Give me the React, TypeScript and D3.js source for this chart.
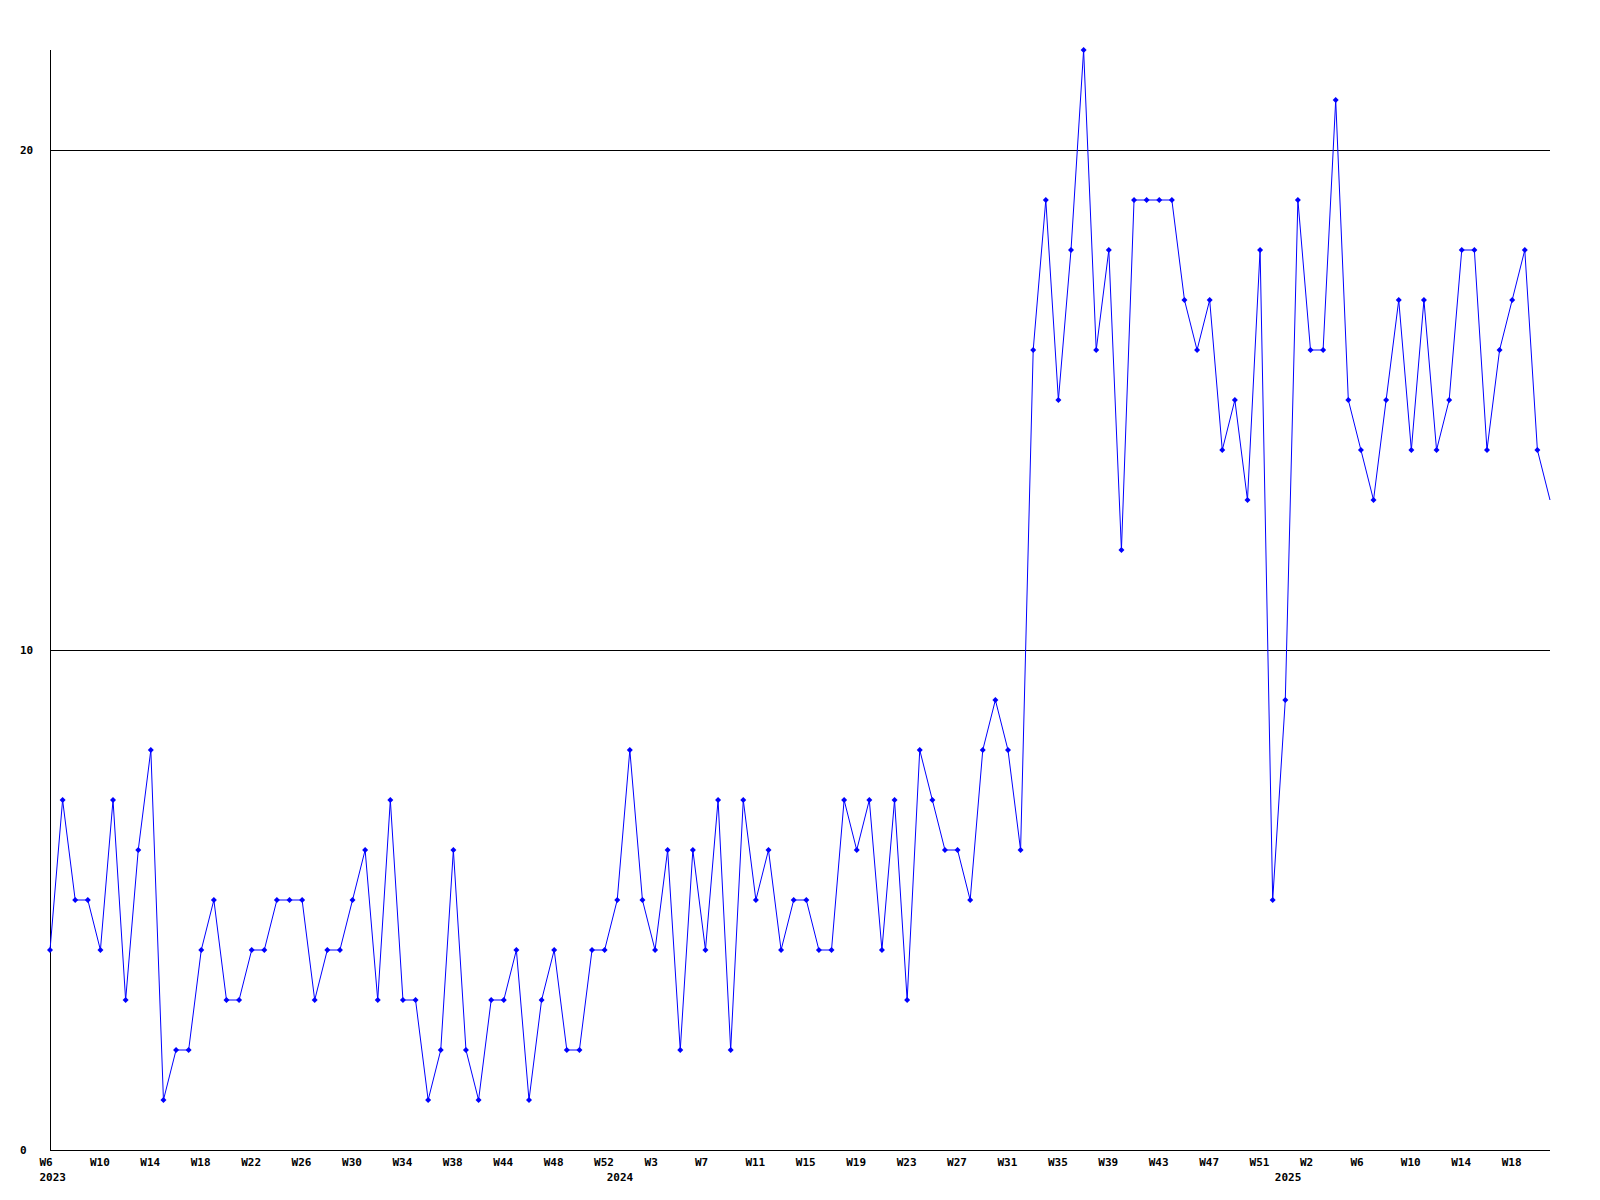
import React from "react";
import * as d3 from "d3";

// week numbers per year (two weeks missing in autumn 2023)
const weeks2023 = [
  6, 7, 8, 9, 10, 11, 12, 13, 14, 15, 16, 17, 18, 19, 20, 21, 22, 23, 24, 25,
  26, 27, 28, 29, 30, 31, 32, 33, 34, 35, 36, 37, 38, 39, 40, 41, 44, 45, 46,
  47, 48, 49, 50, 51, 52,
];
const weeks2024 = [
  0, 1, 2, 3, 4, 5, 6, 7, 8, 9, 10, 11, 12, 13, 14, 15, 16, 17, 18, 19, 20, 21,
  22, 23, 24, 25, 26, 27, 28, 29, 30, 31, 32, 33, 34, 35, 36, 37, 38, 39, 40,
  41, 42, 43, 44, 45, 46, 47, 48, 49, 50, 51, 52,
];
const weeks2025 = [
  0, 1, 2, 3, 4, 5, 6, 7, 8, 9, 10, 11, 12, 13, 14, 15, 16, 17, 18, 19, 20, 21,
];

const values = [
  4, 7, 5, 5, 4, 7, 3, 6, 8, 1,
  2, 2, 4, 5, 3, 3, 4, 4, 5, 5,
  5, 3, 4, 4, 5, 6, 3, 7, 3, 3,
  1, 2, 6, 2, 1, 3, 3, 4, 1, 3,
  4, 2, 2, 4, 4, 5, 8, 5, 4, 6,
  2, 6, 4, 7, 2, 7, 5, 6, 4, 5,
  5, 4, 4, 7, 6, 7, 4, 7, 3, 8,
  7, 6, 6, 5, 8, 9, 8, 6, 16, 19,
  15, 18, 22, 16, 18, 12, 19, 19, 19, 19,
  17, 16, 17, 14, 15, 13, 18, 5, 9, 19,
  16, 16, 21, 15, 14, 13, 15, 17, 14, 17,
  14, 15, 18, 18, 14, 16, 17, 18, 14, 13,
];

const yTicks = [0, 10, 20];
const yMax = 22;
const labelEvery = 4;

const width = 1600;
const height = 1200;
const left = 50;
const right = 1550;
const top = 50;
const bottom = 1150;
const lineColor = "#0000ff";
const font = "'DejaVu Sans Mono', 'Liberation Mono', monospace";

const points = [
  ...weeks2023.map((w) => ({ year: 2023, week: w })),
  ...weeks2024.map((w) => ({ year: 2024, week: w })),
  ...weeks2025.map((w) => ({ year: 2025, week: w })),
].map((d, i) => ({ ...d, i, value: values[i] }));

const App = () => {
  const x = d3
    .scalePoint<number>()
    .domain(points.map((d) => d.i))
    .range([left, right]);
  const y = d3.scaleLinear().domain([0, yMax]).range([bottom, top]);

  const line = d3
    .line<any>()
    .x((d) => x(d.i)!)
    .y((d) => y(d.value));

  const yearStarts = points.filter(
    (d, i) => i === 0 || points[i - 1].year !== d.year
  );

  return (
    <svg
      width={width}
      height={height}
      style={{ position: "absolute", left: 0, top: 0, background: "#fff" }}
      fontFamily={font}
      fontWeight="bold"
      fontSize={11}
    >
      <rect width={width} height={height} fill="#fff" />
      {/* grid + axes */}
      <g stroke="#000" strokeWidth={1} shapeRendering="crispEdges">
        {yTicks
          .filter((t) => t > 0)
          .map((t) => (
            <line key={t} x1={left} x2={right} y1={y(t)} y2={y(t)} />
          ))}
        <line x1={left} x2={left} y1={top} y2={bottom} />
        <line x1={left} x2={right} y1={bottom} y2={bottom} />
      </g>
      <g fill="#000">
        {yTicks.map((t) => (
          <text key={t} x={20} y={y(t) + 4}>
            {t}
          </text>
        ))}
        {points
          .filter((d) => d.i % labelEvery === 0)
          .map((d) => (
            <text key={d.i} x={x(d.i)! - 10.5} y={1166}>
              {"W" + d.week}
            </text>
          ))}
        {yearStarts.map((d) => (
          <text key={d.year} x={x(d.i)! - 10.5} y={1181}>
            {d.year}
          </text>
        ))}
      </g>
      <path d={line(points)!} fill="none" stroke={lineColor} strokeWidth={1} />
      <g fill={lineColor}>
        {points.slice(0, -1).map((d) => {
          const cx = x(d.i)!;
          const cy = y(d.value);
          return (
            <path
              key={d.i}
              d={`M${cx - 3},${cy}L${cx},${cy - 3}L${cx + 3},${cy}L${cx},${cy + 3}Z`}
            />
          );
        })}
      </g>
    </svg>
  );
};

export default App;
